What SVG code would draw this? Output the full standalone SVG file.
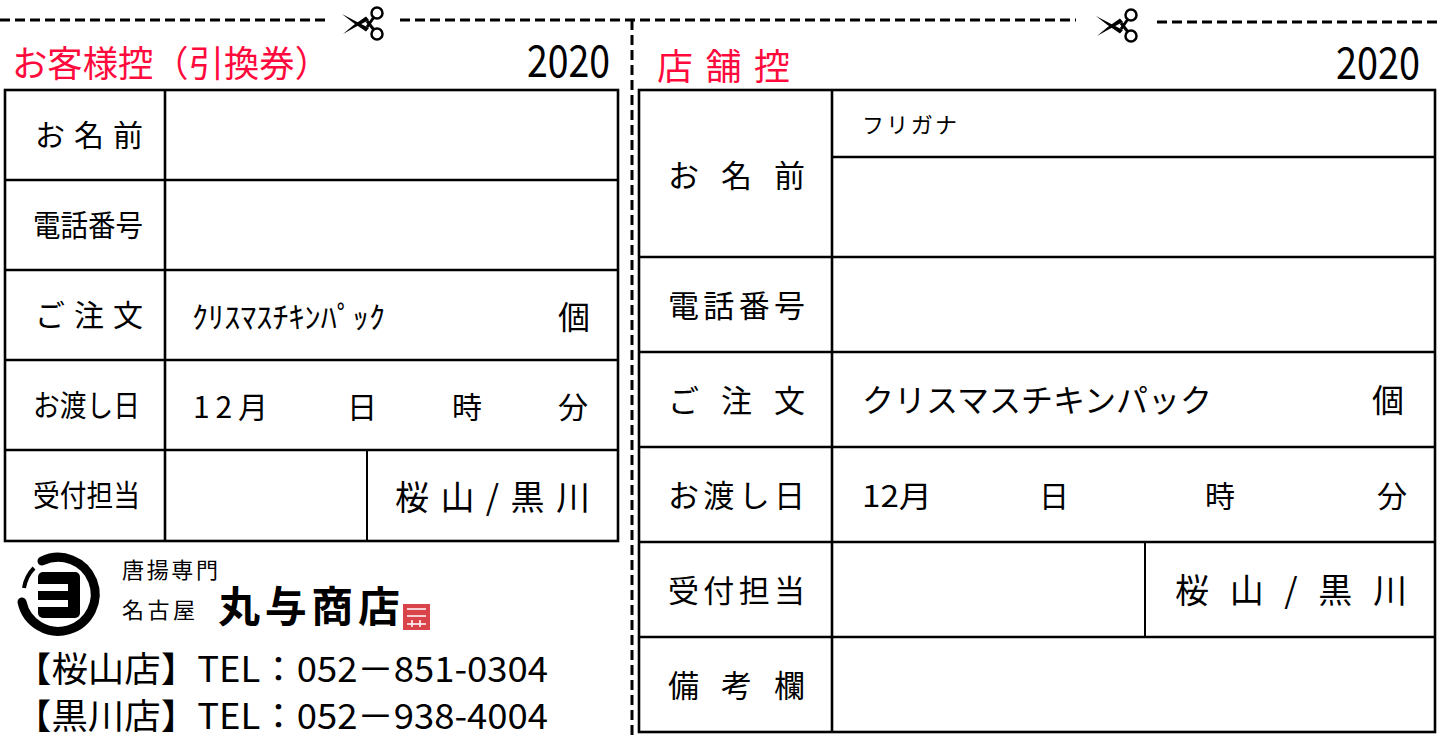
<svg xmlns="http://www.w3.org/2000/svg" width="1440" height="739" viewBox="0 0 1440 739">
<style>
text{font-family:"Noto Sans CJK JP","Noto Sans",sans-serif;fill:#000}
.red{fill:#ff0a3c}
.grid{stroke:#000;stroke-width:2.6;fill:none}
.thin{stroke:#000;stroke-width:2;fill:none}
.cut{stroke:#000;stroke-width:3;stroke-dasharray:10 5;fill:none}
.lab{font-size:30px}
.lab2{font-size:31px}
</style>
<defs>
<g id="scissors">
<path d="M-22,-10 Q-9,-3 5,4 L2,7.5 Q-10,0 -22,-10 Z" fill="#000"/>
<path d="M-21,10 Q-9,3 5,-4 L2,-7.5 Q-10,0 -21,10 Z" fill="#000"/>
<path d="M3,3 L10,-7 M3,-3 L10,6" stroke="#000" stroke-width="3"/>
<circle cx="13" cy="-11" r="5.5" fill="#fff" stroke="#000" stroke-width="2.5"/>
<circle cx="13" cy="10" r="5.5" fill="#fff" stroke="#000" stroke-width="2.5"/>
</g>
</defs>
<rect width="1440" height="739" fill="#fff"/>

<g id="cut-lines">
<path class="cut" d="M0,20 H328"/>
<path class="cut" d="M400,20 H1076"/>
<path class="cut" d="M1157,22 H1440"/>
<path class="cut" d="M632,20 V739"/>
<use href="#scissors" x="364" y="24"/>
<use href="#scissors" x="1118" y="26"/>
</g>

<g id="header-left">
<text class="red" x="12" y="77" font-size="36" textLength="318" lengthAdjust="spacingAndGlyphs">お客様控（引換券）</text>
<text x="527" y="77" font-size="44" textLength="83" lengthAdjust="spacingAndGlyphs">2020</text>
</g>

<g id="table-left">
<rect class="grid" x="5" y="90" width="613" height="451"/>
<path class="grid" d="M165,90 V541 M5,180 H618 M5,270 H618 M5,360 H618 M5,450 H618"/>
<path class="thin" d="M367,450 V541"/>
<text class="lab" x="35" y="146" textLength="108" lengthAdjust="spacing">お名前</text>
<text class="lab" x="33" y="236" textLength="110" lengthAdjust="spacingAndGlyphs">電話番号</text>
<text class="lab" x="35" y="326" textLength="108" lengthAdjust="spacing">ご注文</text>
<text class="lab" x="33" y="416" textLength="107" lengthAdjust="spacingAndGlyphs">お渡し日</text>
<text class="lab" x="33" y="506" textLength="107" lengthAdjust="spacingAndGlyphs">受付担当</text>
<text x="192" y="328" font-size="30" textLength="193" lengthAdjust="spacingAndGlyphs">ｸﾘｽﾏｽﾁｷﾝﾊﾟｯｸ</text>
<text x="558" y="329" font-size="32">個</text>
<text x="193" y="418" font-size="30" textLength="75" lengthAdjust="spacing">12月</text>
<text x="347" y="418" font-size="30">日</text>
<text x="452" y="418" font-size="30">時</text>
<text x="558" y="418" font-size="30">分</text>
<text x="395" y="510" font-size="34" textLength="195" lengthAdjust="spacing">桜山/黒川</text>
</g>

<g id="logo">
<path d="M42,561 A37,37 0 1 1 22,602" fill="none" stroke="#000" stroke-width="9" stroke-linecap="round"/>
<path d="M24,588 A37,37 0 0 1 34,568" fill="none" stroke="#000" stroke-width="4"/>
<rect x="38" y="572" width="42" height="46" rx="5" fill="#000"/>
<rect x="38" y="584" width="30" height="7" fill="#fff"/>
<rect x="38" y="600" width="30" height="7" fill="#fff"/>
<text x="122" y="578" font-size="22" textLength="96" lengthAdjust="spacing">唐揚専門</text>
<text x="122" y="618" font-size="22" textLength="73" lengthAdjust="spacing">名古屋</text>
<text x="218" y="622" font-size="42" font-weight="700" textLength="182" lengthAdjust="spacing">丸与商店</text>
<rect x="403" y="604" width="27" height="26" fill="#d9434a"/>
<path d="M407,609 H426 M407,616 H426 M412,620 V627 M420,620 V627 M407,624 H426" stroke="#fff" stroke-width="1.5"/>
</g>

<g id="contacts">
<text x="15" y="682" font-size="35" textLength="533" lengthAdjust="spacingAndGlyphs">【桜山店】TEL：052－851-0304</text>
<text x="15" y="729" font-size="35" textLength="533" lengthAdjust="spacingAndGlyphs">【黒川店】TEL：052－938-4004</text>
</g>

<g id="header-right">
<text class="red" x="657" y="80" font-size="36" textLength="133" lengthAdjust="spacing">店舗控</text>
<text x="1336" y="79" font-size="44" textLength="84" lengthAdjust="spacingAndGlyphs">2020</text>
</g>

<g id="table-right">
<rect class="grid" x="639" y="90" width="796" height="642"/>
<path class="grid" d="M832,90 V732 M832,157 H1435 M639,257 H1435 M639,352 H1435 M639,447 H1435 M639,542 H1435 M639,637 H1435"/>
<path class="thin" d="M1145,542 V637"/>
<text class="lab2" x="668" y="187" textLength="137" lengthAdjust="spacing">お名前</text>
<text class="lab2" x="668" y="317" textLength="137" lengthAdjust="spacing">電話番号</text>
<text class="lab2" x="668" y="412" textLength="137" lengthAdjust="spacing">ご注文</text>
<text class="lab2" x="668" y="507" textLength="137" lengthAdjust="spacing">お渡し日</text>
<text class="lab2" x="668" y="602" textLength="137" lengthAdjust="spacing">受付担当</text>
<text class="lab2" x="668" y="697" textLength="137" lengthAdjust="spacing">備考欄</text>
<text x="862" y="133" font-size="22" textLength="95" lengthAdjust="spacing">フリガナ</text>
<text x="862" y="412" font-size="32" textLength="350" lengthAdjust="spacingAndGlyphs">クリスマスチキンパック</text>
<text x="1372" y="412" font-size="32">個</text>
<text x="862" y="507" font-size="30" textLength="70" lengthAdjust="spacingAndGlyphs">12月</text>
<text x="1039" y="507" font-size="30">日</text>
<text x="1205" y="507" font-size="30">時</text>
<text x="1377" y="507" font-size="30">分</text>
<text x="1175" y="603" font-size="34" textLength="232" lengthAdjust="spacing">桜山/黒川</text>
</g>
</svg>
